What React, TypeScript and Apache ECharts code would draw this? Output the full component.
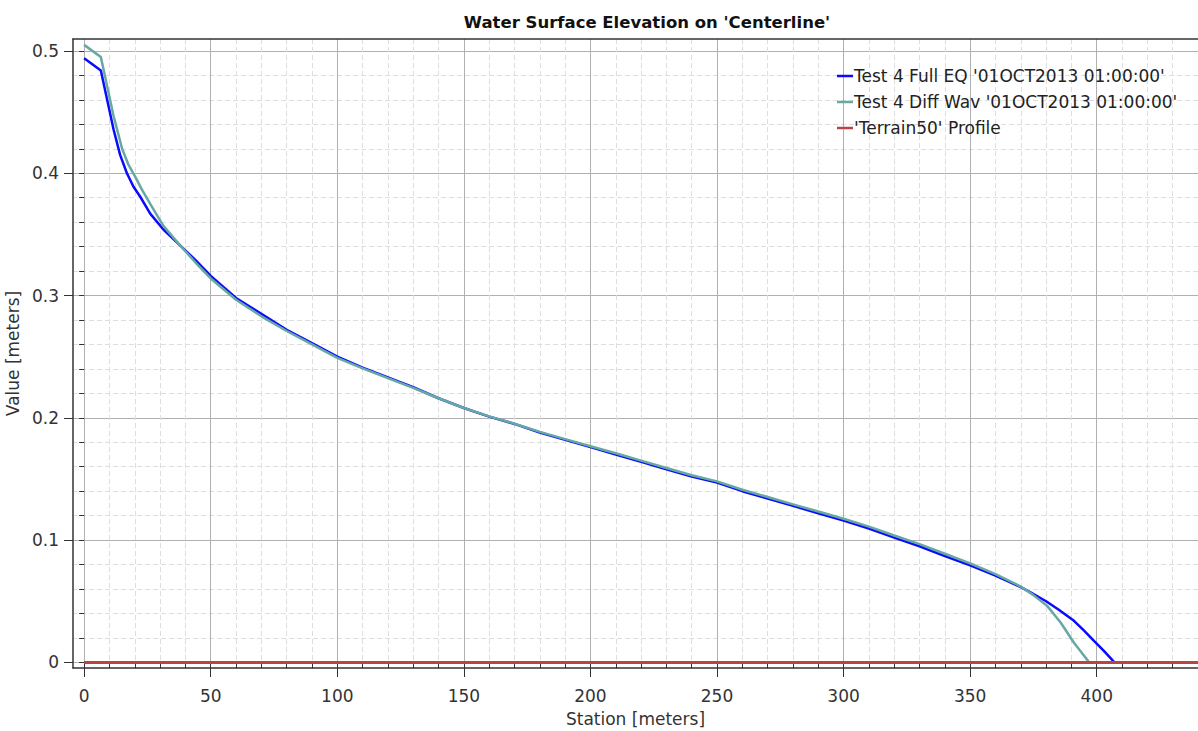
import React, { useEffect, useRef } from "react";
import * as echarts from "echarts";

const titleText = "Water Surface Elevation on 'Centerline'";
const seriesNames = [
  "Test 4 Full EQ '01OCT2013 01:00:00'",
  "Test 4 Diff Wav '01OCT2013 01:00:00'",
  "'Terrain50' Profile",
];

const xMajorTicks = [0, 50, 100, 150, 200, 250, 300, 350, 400];
const xMinorTicks = [
  0, 10, 20, 30, 40, 50, 60, 70, 80, 90, 100, 110, 120, 130, 140, 150, 160, 170, 180, 190,
  200, 210, 220, 230, 240, 250, 260, 270, 280, 290, 300, 310, 320, 330, 340, 350, 360, 370,
  380, 390, 400, 410, 420, 430, 440,
];
const yMajorTicks = [0, 0.1, 0.2, 0.3, 0.4, 0.5];
const yMinorTicks = [
  0, 0.02, 0.04, 0.06, 0.08, 0.1, 0.12, 0.14, 0.16, 0.18, 0.2, 0.22, 0.24, 0.26, 0.28, 0.3,
  0.32, 0.34, 0.36, 0.38, 0.4, 0.42, 0.44, 0.46, 0.48, 0.5,
];

const fullEQ: [number, number][] = [
  [0, 0.494], [6.6, 0.484], [11.6, 0.436], [14.2, 0.415], [16.9, 0.4], [19.5, 0.389],
  [22.1, 0.381], [26.1, 0.367], [31.3, 0.354], [37.9, 0.341], [44, 0.329], [50, 0.316],
  [60, 0.298], [70, 0.285], [80, 0.272], [90, 0.261], [100, 0.25], [110, 0.241],
  [120, 0.233], [130, 0.225], [140, 0.216], [150, 0.208], [160, 0.201], [170, 0.195],
  [180, 0.188], [190, 0.182], [200, 0.176], [210, 0.17], [220, 0.164], [230, 0.158],
  [240, 0.152], [250, 0.147], [260, 0.14], [270, 0.134], [280, 0.128], [290, 0.122],
  [300, 0.116], [310, 0.1095], [320, 0.102], [330, 0.095], [340, 0.087], [350, 0.0793],
  [360, 0.071], [370, 0.0615], [374, 0.057], [380, 0.05], [385, 0.043], [391, 0.034],
  [395, 0.026], [399, 0.0174], [403, 0.009], [407, 0], [440, 0],
];

const diffWav: [number, number][] = [
  [0, 0.505], [6.6, 0.495], [11.6, 0.447], [13.5, 0.432], [15, 0.42], [17.5, 0.407],
  [20.2, 0.397], [23, 0.386], [26.1, 0.375], [31.3, 0.357], [37.9, 0.341], [44, 0.327],
  [50, 0.314], [60, 0.2965], [70, 0.283], [80, 0.271], [90, 0.26], [100, 0.249],
  [110, 0.2405], [120, 0.2325], [130, 0.2245], [140, 0.216], [150, 0.208], [160, 0.2012],
  [170, 0.1952], [180, 0.1885], [190, 0.1826], [200, 0.1768], [210, 0.171], [220, 0.165],
  [230, 0.159], [240, 0.153], [250, 0.148], [260, 0.1412], [270, 0.1352], [280, 0.1292],
  [290, 0.1234], [300, 0.1175], [310, 0.111], [320, 0.1038], [330, 0.0967], [340, 0.0888],
  [350, 0.081], [360, 0.0722], [370, 0.062], [375, 0.055], [380.5, 0.046], [385.8, 0.0324],
  [391, 0.016], [394, 0.008], [397, 0],
];

const terrain: [number, number][] = [
  [0, 0], [440, 0],
];

const FONT = "DejaVu Sans";

export default function App() {
  const ref = useRef<HTMLDivElement>(null);
  useEffect(() => {
    if (!ref.current) return;
    const chart = echarts.init(ref.current, null, { renderer: "svg" });
    const xMin = -4.4;
    const xMax = 440;
    const yMin = -0.0046;
    const yMax = 0.5098;
    const axisColor = "#333";
    chart.setOption({
      animation: false,
      backgroundColor: "#fff",
      textStyle: { fontFamily: FONT },
      title: {
        text: titleText,
        left: 642,
        textAlign: "center",
        top: 9,
        textStyle: { fontFamily: FONT, fontSize: 16.5, fontWeight: "bold", color: "#111" },
      },
      legend: {
        data: seriesNames,
        left: 832,
        top: 61,
        orient: "vertical",
        icon: "rect",
        itemWidth: 16,
        itemHeight: 2.5,
        itemGap: 6,
        textStyle: { fontFamily: FONT, fontSize: 17, lineHeight: 20, color: "#222", padding: [0, 0, 0, -4] },
      },
      grid: {
        left: 73,
        top: 39,
        right: 0,
        bottom: 63,
        containLabel: false,
        outerBoundsMode: "none",
      },
      xAxis: [
        {
          type: "value",
          position: "bottom",
          min: xMin,
          max: xMax,
          axisLine: { show: false },
          axisTick: { show: true, customValues: xMinorTicks, length: 6, lineStyle: { color: axisColor } },
          axisLabel: { show: false },
          splitLine: { show: true, lineStyle: { color: "#dedede", type: [5, 3], width: 1 } },
        },
        {
          type: "value",
          position: "bottom",
          min: xMin,
          max: xMax,
          name: "Station [meters]",
          nameLocation: "middle",
          nameGap: 42,
          nameTextStyle: { fontFamily: FONT, fontSize: 17, color: "#333" },
          axisLine: { show: true, onZero: false, lineStyle: { color: axisColor, width: 1.5 } },
          axisTick: { show: true, customValues: xMajorTicks, length: 9, lineStyle: { color: axisColor } },
          axisLabel: {
            show: true,
            customValues: xMajorTicks,
            margin: 19,
            fontFamily: FONT,
            fontSize: 17,
            color: "#333",
          },
          splitLine: { show: true, lineStyle: { color: "#b0b0b0", type: "solid", width: 1 } },
        },
        {
          type: "value",
          position: "top",
          min: xMin,
          max: xMax,
          axisLine: { show: true, onZero: false, lineStyle: { color: axisColor, width: 1.5 } },
          axisTick: { show: false },
          axisLabel: { show: false },
          splitLine: { show: false },
        },
      ],
      yAxis: [
        {
          type: "value",
          position: "left",
          min: yMin,
          max: yMax,
          axisLine: { show: false },
          axisTick: { show: true, customValues: yMinorTicks, length: 5, lineStyle: { color: axisColor } },
          axisLabel: { show: false },
          splitLine: { show: true, lineStyle: { color: "#dedede", type: [5, 3], width: 1 } },
        },
        {
          type: "value",
          position: "left",
          min: yMin,
          max: yMax,
          name: "Value [meters]",
          nameLocation: "middle",
          nameGap: 41,
          nameTextStyle: { fontFamily: FONT, fontSize: 17, color: "#333" },
          axisLine: { show: true, onZero: false, lineStyle: { color: axisColor, width: 1.5 } },
          axisTick: { show: true, customValues: yMajorTicks, length: 9, lineStyle: { color: axisColor } },
          axisLabel: {
            show: true,
            customValues: yMajorTicks,
            margin: 14,
            fontFamily: FONT,
            fontSize: 17,
            color: "#333",
          },
          splitLine: { show: true, lineStyle: { color: "#b0b0b0", type: "solid", width: 1 } },
        },
      ],
      series: [
        {
          name: seriesNames[0],
          type: "line",
          data: fullEQ,
          xAxisIndex: 1,
          yAxisIndex: 1,
          symbol: "none",
          lineStyle: { color: "#0a0aff", width: 2.5 },
          itemStyle: { color: "#0a0aff" },
        },
        {
          name: seriesNames[1],
          type: "line",
          data: diffWav,
          xAxisIndex: 1,
          yAxisIndex: 1,
          symbol: "none",
          lineStyle: { color: "#67a8a4", width: 2.5 },
          itemStyle: { color: "#67a8a4" },
        },
        {
          name: seriesNames[2],
          type: "line",
          data: terrain,
          xAxisIndex: 1,
          yAxisIndex: 1,
          symbol: "none",
          lineStyle: { color: "#b84444", width: 3 },
          itemStyle: { color: "#b84444" },
        },
      ],
    });
    return () => chart.dispose();
  }, []);
  return (
    <div
      ref={ref}
      style={{ position: "fixed", left: 0, top: 0, width: 1198, height: 731 }}
    />
  );
}
